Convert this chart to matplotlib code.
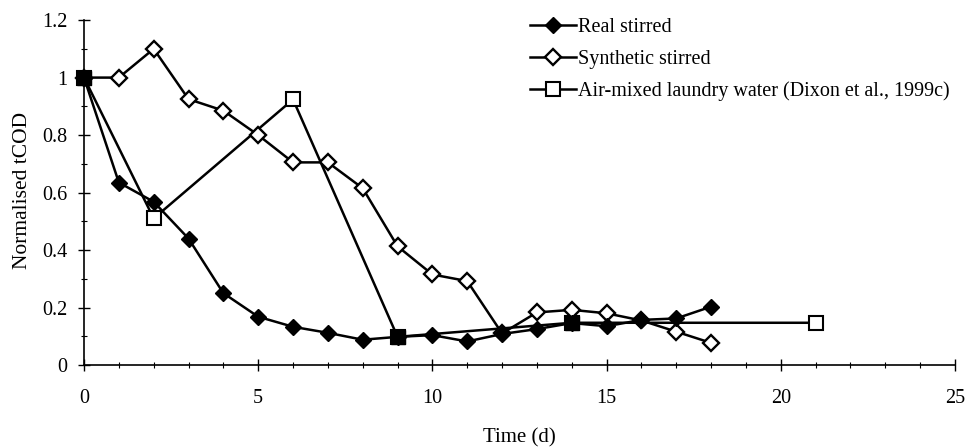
import matplotlib.pyplot as plt
from matplotlib.ticker import MultipleLocator
import numpy as np

plt.rcParams['font.family'] = ['Liberation Serif', 'DejaVu Serif']

# data
real_days = [0, 1, 2, 3, 4, 5, 6, 7, 8, 9, 10, 11, 12, 13, 14, 15, 16, 17, 18]
real_tcod = [1.0, 0.635, 0.568, 0.44, 0.25, 0.168, 0.133, 0.112, 0.088, 0.098, 0.104, 0.082,
             0.108, 0.125, 0.146, 0.135, 0.157, 0.162, 0.203]

synth_days = [0, 1, 2, 3, 4, 5, 6, 7, 8, 9, 10, 11, 12, 13, 14, 15, 16, 17, 18]
synth_tcod = [1.0, 1.0, 1.1, 0.925, 0.885, 0.80, 0.705, 0.705, 0.615, 0.413, 0.315, 0.292,
              0.11, 0.183, 0.192, 0.18, 0.155, 0.116, 0.077]

air_days = [0, 2, 6, 9, 14, 21]
air_tcod = [1.0, 0.51, 0.924, 0.098, 0.147, 0.147]

fig = plt.figure(figsize=(9.69, 4.47), dpi=100)
ax = fig.add_axes([0.0867, 0.1834, 0.8988, 0.7716])

ax.plot(synth_days, synth_tcod, color='black', lw=1.8, marker='D', ms=8.5,
        mfc='white', mec='black', mew=1.7, label='Synthetic stirred', zorder=3)
ax.plot(air_days, air_tcod, color='black', lw=1.8, marker='s', ms=10,
        mfc='white', mec='black', mew=1.5,
        label='Air-mixed laundry water (Dixon et al., 1999c)', zorder=2)
ax.plot(real_days, real_tcod, color='black', lw=1.8, marker='D', ms=8.5,
        mfc='black', mec='black', label='Real stirred', zorder=4)

# squares that sit on top of a real-stirred point look filled in the original
same = [(d, v) for d, v in zip(air_days, air_tcod)
        if d in real_days and abs(real_tcod[real_days.index(d)] - v) < 0.02]
ax.plot([s[0] for s in same], [s[1] for s in same], ls='none', marker='s', ms=10,
        mfc='black', mec='black', zorder=5)

ax.set_xlim(0, 25)
ax.set_ylim(0, 1.2)
ax.xaxis.set_major_locator(MultipleLocator(5))
ax.xaxis.set_minor_locator(MultipleLocator(1))
ax.yaxis.set_major_locator(MultipleLocator(0.2))
ax.yaxis.set_minor_locator(MultipleLocator(0.1))
ax.yaxis.set_major_formatter(plt.FuncFormatter(lambda v, p: f'{v:g}'))
ax.tick_params(which='major', direction='inout', length=8, width=1, labelsize=14.5)
ax.tick_params(which='minor', direction='inout', length=4, width=0.8)
ax.tick_params(axis='x', pad=13)
ax.tick_params(axis='y', pad=8)
ax.spines['top'].set_visible(False)
ax.spines['right'].set_visible(False)
ax.spines['left'].set_linewidth(1.2)
ax.spines['bottom'].set_linewidth(1.2)
for ln in ax.lines:
    ln.set_clip_on(False)

ax.set_xlabel('Time (d)', fontsize=15)
ax.set_ylabel('Normalised tCOD', fontsize=15.5)
ax.xaxis.set_label_coords(0.5, -0.183)
ax.yaxis.set_label_coords(-0.06, 0.507)

handles, labels = ax.get_legend_handles_labels()
order = [2, 0, 1]
ax.legend([handles[i] for i in order], [labels[i] for i in order],
          loc='upper left', bbox_to_anchor=(520 / 969, 1 - 8 / 447),
          bbox_transform=fig.transFigure, frameon=False, fontsize=14.5,
          handlelength=2.3, handletextpad=0.1, labelspacing=0.62, borderpad=0)

fig.savefig('out.png', dpi=100)
